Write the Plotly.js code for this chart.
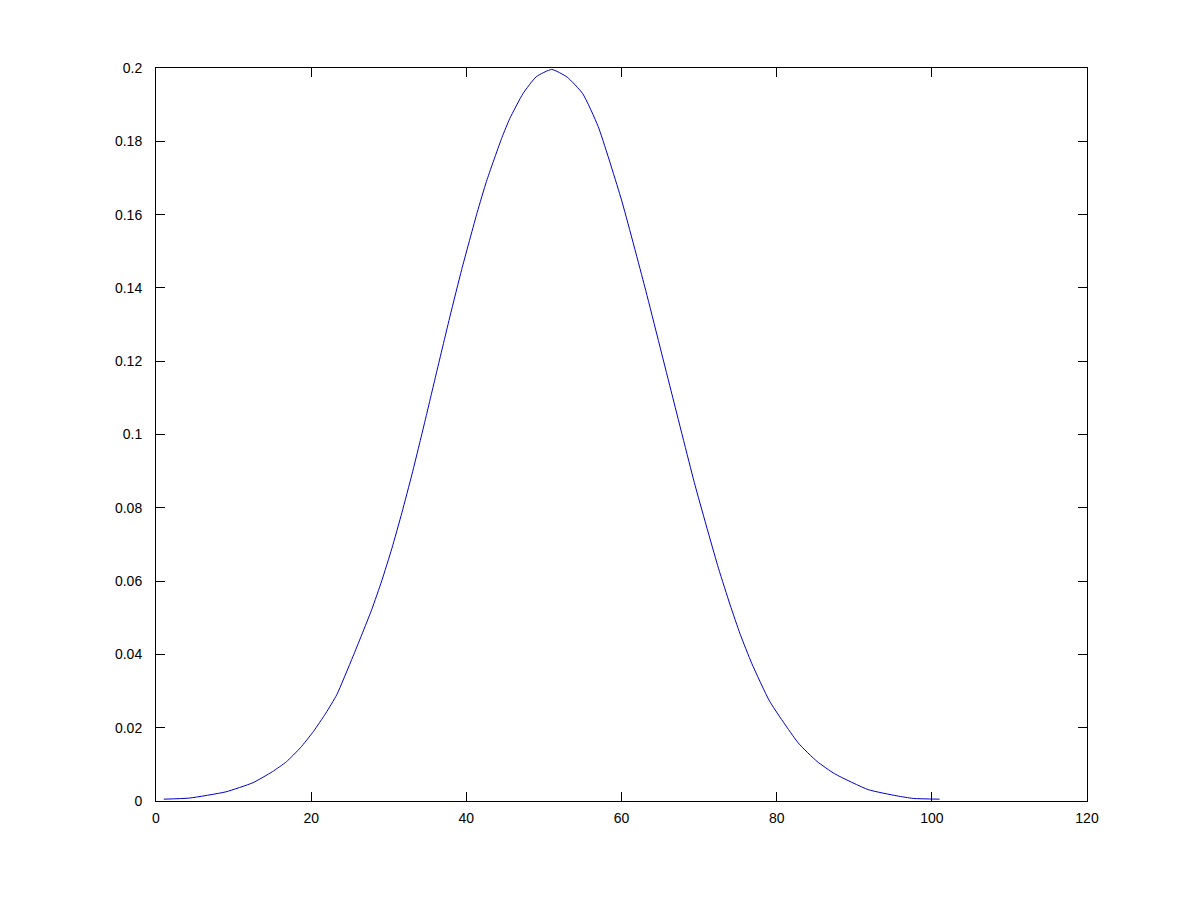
<!DOCTYPE html>
<html>
<head>
<meta charset="utf-8">
<script src="https://cdn.plot.ly/plotly-3.0.1.min.js"></script>
<style>html,body{margin:0;padding:0;background:#fff;}#chart{width:1201px;height:900px;}</style>
</head>
<body>
<div id="chart"></div>
<script>
const xValues = [1, 4.3, 9, 12.5, 15, 16.8, 18.6, 20.3, 21.9, 23.3, 25.4, 27.8, 29.1, 30.4, 31.7, 33.0, 34.0, 34.8, 36.2, 37.9, 39.4, 41.4, 42.6, 44.6, 45.6, 47.3, 49, 51, 53, 55, 57, 60, 63, 66.5, 69.5, 72.5, 74, 75.3, 76.8, 79.1, 82.8, 85.2, 87.5, 91.8, 95.5, 97.6, 101];
const yValues = [0.0005, 0.0008, 0.0025, 0.005, 0.008, 0.0107, 0.0145, 0.019, 0.024, 0.029, 0.0395, 0.0522, 0.0601, 0.0689, 0.0787, 0.0892, 0.0978, 0.1048, 0.1173, 0.1323, 0.145, 0.1606, 0.1691, 0.1811, 0.1862, 0.193, 0.1976, 0.1996, 0.1975, 0.193, 0.184, 0.164, 0.1403, 0.111, 0.086, 0.0635, 0.0535, 0.0455, 0.0375, 0.0272, 0.0158, 0.0108, 0.0074, 0.0031, 0.0014, 0.0007, 0.0005];
const xTicks = [0, 20, 40, 60, 80, 100, 120];
const xTickLabels = ["0", "20", "40", "60", "80", "100", "120"];
const yTicks = [0, 0.02, 0.04, 0.06, 0.08, 0.1, 0.12, 0.14, 0.16, 0.18, 0.2];
const yTickLabels = ["0", "0.02", "0.04", "0.06", "0.08", "0.1", "0.12", "0.14", "0.16", "0.18", "0.2"];

const axisCommon = {
  showgrid: false, zeroline: false, showline: true, linecolor: '#000', linewidth: 1,
  mirror: 'ticks', ticks: 'inside', ticklen: 9, tickwidth: 1, tickcolor: '#000',
  tickfont: {family: 'Liberation Sans, Arial, sans-serif', size: 14, color: '#000'},
  tickmode: 'array', fixedrange: true
};
Plotly.newPlot('chart', [{
  x: xValues, y: yValues, type: 'scatter', mode: 'lines',
  line: {color: '#0000c8', width: 1, shape: 'spline', smoothing: 0.5}, hoverinfo: 'skip'
}], {
  width: 1201, height: 900,
  margin: {l: 156, r: 114, t: 68, b: 99, pad: 0},
  paper_bgcolor: '#fff', plot_bgcolor: '#fff', showlegend: false,
  xaxis: Object.assign({}, axisCommon, {range: [0, 120], tickvals: xTicks, ticktext: xTickLabels, ticklabelstandoff: 4}),
  yaxis: Object.assign({}, axisCommon, {range: [0, 0.2], tickvals: yTicks, ticktext: yTickLabels, ticklabelstandoff: 10})
}, {staticPlot: true, displayModeBar: false});
</script>
</body>
</html>
